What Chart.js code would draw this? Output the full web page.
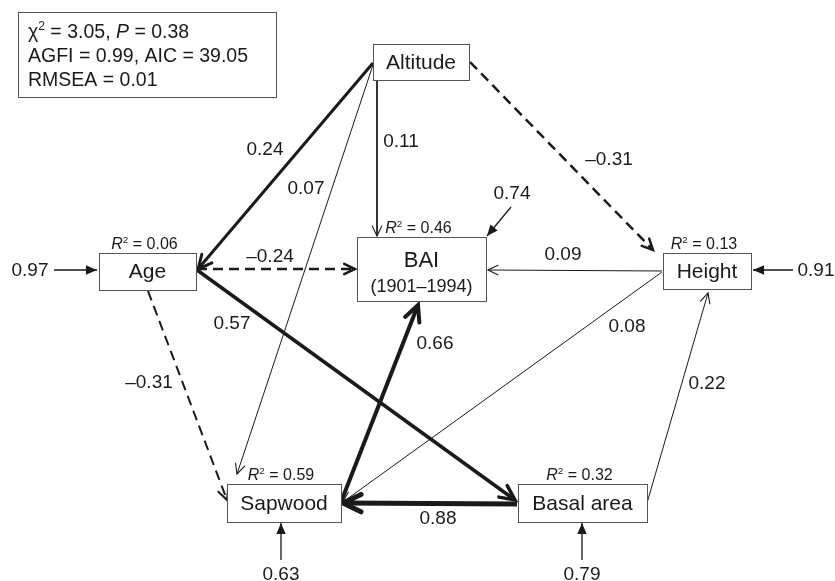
<!DOCTYPE html>
<html>
<head>
<meta charset="utf-8">
<script src="https://cdn.jsdelivr.net/npm/chart.js@4.4.0/dist/chart.umd.min.js"></script>
<style>
  body { margin: 0; background: #fff; }
  #wrap { width: 835px; height: 581px; }
</style>
</head>
<body>
<div id="wrap"><canvas id="grafico" width="835" height="581"></canvas></div>
<script>
// Dados do modelo (coeficientes de caminho e R²)
const nodeNames = ['Altitude', 'Age', 'BAI', 'Height', 'Sapwood', 'Basal area'];
const r2Values = [null, 0.06, 0.46, 0.13, 0.59, 0.32];
const pathFrom = ['Altitude', 'Altitude', 'Altitude', 'Altitude', 'Age', 'Age', 'Age', 'Height', 'Height', 'Basal area', 'Sapwood', 'Basal area'];
const pathTo = ['Age', 'Sapwood', 'BAI', 'Height', 'BAI', 'Basal area', 'Sapwood', 'BAI', 'Sapwood', 'Height', 'BAI', 'Sapwood'];
const pathCoef = [0.24, 0.07, 0.11, -0.31, -0.24, 0.57, -0.31, 0.09, 0.08, 0.22, 0.66, 0.88];
const errorTo = ['Age', 'Height', 'Sapwood', 'Basal area', 'BAI'];
const errorValues = [0.97, 0.91, 0.63, 0.79, 0.74];
const fitChi2 = 3.05, fitP = 0.38, fitAGFI = 0.99, fitAIC = 39.05, fitRMSEA = 0.01;

// Layout (posições em unidades do gráfico, 0..835 x 0..581)
const nodeBox = {
  'Altitude':   { cx: 421,   cy: 62,    w: 96,  h: 36 },
  'Age':        { cx: 147.5, cy: 271.5, w: 97,  h: 37 },
  'BAI':        { cx: 421.5, cy: 269,   w: 129, h: 64, sub: '(1901–1994)' },
  'Height':     { cx: 707,   cy: 271,   w: 88,  h: 36 },
  'Sapwood':    { cx: 284,   cy: 503,   w: 114, h: 38 },
  'Basal area': { cx: 582.5, cy: 503,   w: 129, h: 38 }
};
const pathGeom = [
  { a: [373, 63],  b: [198, 269], w: 3,   lab: [265, 150] },
  { a: [373, 65],  b: [237, 474], w: 1,   lab: [306, 189] },
  { a: [377, 80],  b: [377, 236], w: 1,   lab: [401, 142] },
  { a: [470, 62],  b: [653, 250], w: 2.5, lab: [609, 160] },
  { a: [197, 269], b: [355, 269], w: 2.5, lab: [270, 257] },
  { a: [197, 270], b: [515, 500], w: 3.5, lab: [232, 324] },
  { a: [148, 291], b: [227, 500], w: 2,   lab: [149, 383] },
  { a: [662, 271], b: [488, 270], w: 1,   lab: [563, 255] },
  { a: [662, 272], b: [343, 502], w: 1,   lab: [627, 327] },
  { a: [647, 503], b: [708, 293], w: 1,   lab: [707, 384] },
  { a: [341, 502], b: [418, 305], w: 4,   lab: [435, 344] },
  { a: [517, 504], b: [343, 503], w: 5,   lab: [438, 519] }
];
const errorGeom = [
  { a: [54, 270],  b: [97, 270],  lab: [30, 271] },
  { a: [793, 270], b: [753, 270], lab: [816, 271] },
  { a: [281, 560], b: [281, 523], lab: [281, 575] },
  { a: [582, 560], b: [582, 523], lab: [582, 575] },
  { a: [511, 207], b: [487, 236], lab: [512, 194] }
];

const FONT = '"Liberation Sans", Arial, sans-serif';
const INK = '#1a1a1a';

function fmt(v) {
  return (v < 0 ? '–' : '') + Math.abs(v).toFixed(2);
}

// Monta os datasets (uma linha por caminho)
const datasets = [];
pathCoef.forEach((c, i) => {
  const g = pathGeom[i];
  datasets.push({
    label: pathFrom[i] + ' → ' + pathTo[i],
    data: [{ x: g.a[0], y: g.a[1] }, { x: g.b[0], y: g.b[1] }],
    borderColor: INK,
    borderWidth: g.w,
    borderDash: c < 0 ? [10, 6] : [],
    pointRadius: 0,
    showLine: true,
    fill: false,
    meta: { kind: 'path', idx: i }
  });
});
errorValues.forEach((v, i) => {
  const g = errorGeom[i];
  datasets.push({
    label: 'e → ' + errorTo[i],
    data: [{ x: g.a[0], y: g.a[1] }, { x: g.b[0], y: g.b[1] }],
    borderColor: INK,
    borderWidth: 1.3,
    pointRadius: 0,
    showLine: true,
    fill: false,
    meta: { kind: 'error', idx: i }
  });
});

// Texto com itálico / sobrescrito
function drawRuns(ctx, runs, x, y, size, align) {
  const parts = runs.map(r => {
    const s = r.sup ? size * 0.62 : size;
    ctx.font = (r.it ? 'italic ' : '') + s + 'px ' + FONT;
    return { r, s, w: ctx.measureText(r.t).width };
  });
  const total = parts.reduce((a, p) => a + p.w, 0);
  let cx = align === 'left' ? x : x - total / 2;
  ctx.textAlign = 'left';
  ctx.textBaseline = 'alphabetic';
  parts.forEach(p => {
    ctx.font = (p.r.it ? 'italic ' : '') + p.s + 'px ' + FONT;
    ctx.fillText(p.r.t, cx, p.r.sup ? y - size * 0.4 : y);
    cx += p.w;
  });
}

function drawHead(ctx, x1, y1, x2, y2, size, lw, filled) {
  const ang = Math.atan2(y2 - y1, x2 - x1);
  const spread = filled ? 0.4 : 0.45;
  const p1 = [x2 - size * Math.cos(ang - spread), y2 - size * Math.sin(ang - spread)];
  const p2 = [x2 - size * Math.cos(ang + spread), y2 - size * Math.sin(ang + spread)];
  ctx.save();
  ctx.setLineDash([]);
  ctx.strokeStyle = INK;
  ctx.fillStyle = INK;
  ctx.lineWidth = lw;
  ctx.lineCap = 'round';
  ctx.lineJoin = 'miter';
  ctx.beginPath();
  ctx.moveTo(p1[0], p1[1]);
  ctx.lineTo(x2, y2);
  ctx.lineTo(p2[0], p2[1]);
  if (filled) { ctx.closePath(); ctx.fill(); } else { ctx.stroke(); }
  ctx.restore();
}

const diagramaPlugin = {
  id: 'diagrama',
  afterDatasetsDraw(chart) {
    const ctx = chart.ctx;
    const xs = chart.scales.x, ys = chart.scales.y;
    const px = v => xs.getPixelForValue(v);
    const py = v => ys.getPixelForValue(v);

    // pontas de seta e rótulos dos caminhos
    chart.data.datasets.forEach(ds => {
      const m = ds.meta;
      const a = ds.data[0], b = ds.data[1];
      let txt, lab;
      if (m.kind === 'path') {
        const w = ds.borderWidth;
        const size = w >= 3 ? 8 + w * 2.4 : (w >= 2 ? 12 : 11);
        drawHead(ctx, px(a.x), py(a.y), px(b.x), py(b.y), size, w >= 2 ? w : 1.1, false);
        txt = fmt(pathCoef[m.idx]);
        lab = pathGeom[m.idx].lab;
      } else {
        drawHead(ctx, px(a.x), py(a.y), px(b.x), py(b.y), 12, 1, true);
        txt = fmt(errorValues[m.idx]);
        lab = errorGeom[m.idx].lab;
      }
      ctx.fillStyle = INK;
      ctx.font = '19px ' + FONT;
      ctx.textAlign = 'center';
      ctx.textBaseline = 'middle';
      ctx.fillText(txt, px(lab[0]), py(lab[1]));
    });

    // caixas das variáveis
    nodeNames.forEach((name, i) => {
      const n = nodeBox[name];
      const x0 = px(n.cx - n.w / 2), y0 = py(n.cy - n.h / 2);
      const x1 = px(n.cx + n.w / 2), y1 = py(n.cy + n.h / 2);
      ctx.save();
      ctx.fillStyle = '#fff';
      ctx.fillRect(x0, y0, x1 - x0, y1 - y0);
      ctx.strokeStyle = '#555';
      ctx.lineWidth = 1;
      ctx.strokeRect(Math.round(x0) + 0.5, Math.round(y0) + 0.5, Math.round(x1 - x0), Math.round(y1 - y0));
      ctx.fillStyle = INK;
      ctx.textAlign = 'center';
      ctx.textBaseline = 'middle';
      if (n.sub) {
        ctx.font = '22px ' + FONT;
        ctx.fillText(name, px(n.cx), py(n.cy - 8));
        ctx.font = '18px ' + FONT;
        ctx.fillText(n.sub, px(n.cx), py(n.cy + 18));
      } else {
        ctx.font = '21px ' + FONT;
        ctx.fillText(name, px(n.cx), py(n.cy + 1));
      }
      if (r2Values[i] !== null) {
        drawRuns(ctx, [{ t: 'R', it: true }, { t: '2', sup: true }, { t: ' = ' + r2Values[i].toFixed(2) }],
          px(n.cx - 3), py(n.cy - n.h / 2 - 4), 16, 'center');
      }
      ctx.restore();
    });

    // caixa com índices de ajuste
    ctx.save();
    ctx.strokeStyle = '#555';
    ctx.lineWidth = 1;
    ctx.strokeRect(px(18) + 0.5, py(12) + 0.5, px(276) - px(18), py(97) - py(12));
    ctx.fillStyle = INK;
    drawRuns(ctx, [{ t: 'χ' }, { t: '2', sup: true }, { t: ' = ' + fitChi2.toFixed(2) + ', ' }, { t: 'P', it: true }, { t: ' = ' + fitP.toFixed(2) }],
      px(28), py(38), 19.5, 'left');
    drawRuns(ctx, [{ t: 'AGFI = ' + fitAGFI.toFixed(2) + ', AIC = ' + fitAIC.toFixed(2) }], px(28), py(62), 19.5, 'left');
    drawRuns(ctx, [{ t: 'RMSEA = ' + fitRMSEA.toFixed(2) }], px(28), py(86), 19.5, 'left');
    ctx.restore();
  }
};

const ctx = document.getElementById('grafico').getContext('2d');
new Chart(ctx, {
  type: 'scatter',
  data: { datasets: datasets },
  options: {
    responsive: false,
    animation: false,
    layout: { padding: 0 },
    plugins: {
      legend: { display: false },
      tooltip: { enabled: false }
    },
    scales: {
      x: { type: 'linear', min: 0, max: 835, display: false },
      y: { type: 'linear', min: 0, max: 581, reverse: true, display: false }
    }
  },
  plugins: [diagramaPlugin]
});
</script>
</body>
</html>
